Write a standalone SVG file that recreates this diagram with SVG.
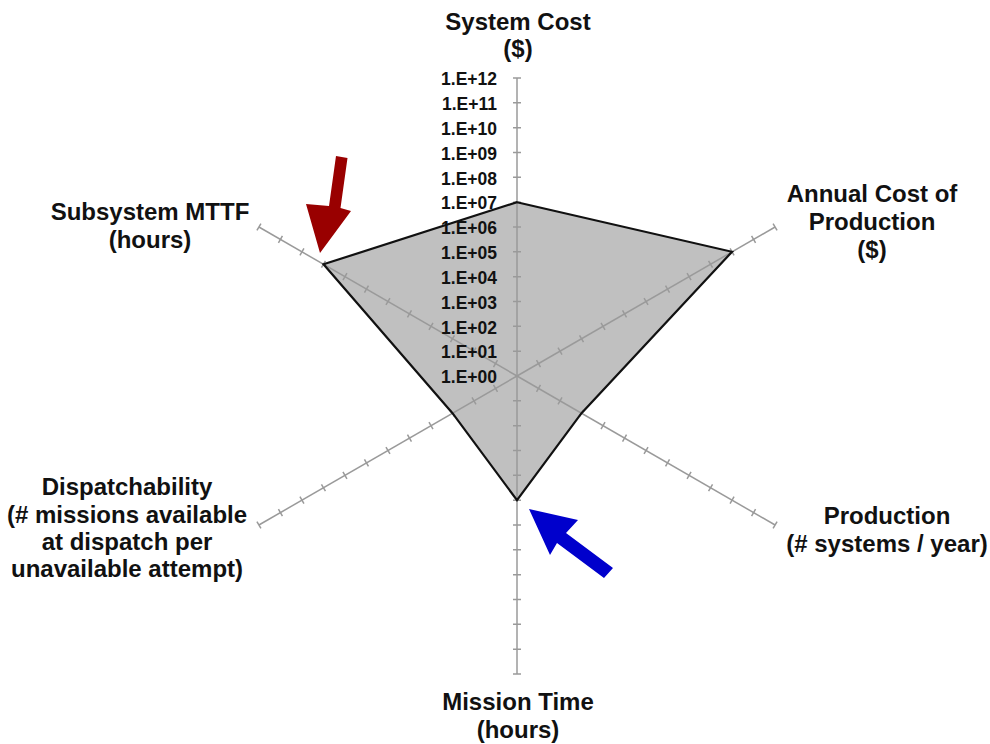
<svg xmlns="http://www.w3.org/2000/svg" xmlns:xlink="http://www.w3.org/1999/xlink" width="990" height="744" viewBox="0 0 990 744">
<style>
.lbl{font-family:"Liberation Sans",Arial,sans-serif;font-weight:bold;font-size:24px;fill:#111;text-anchor:middle}
.tk{font-family:"Liberation Sans",Arial,sans-serif;font-weight:bold;font-size:17.5px;fill:#111;text-anchor:end}
.ax{stroke:#9a9a9a;stroke-width:1.5;fill:none}
</style>
<defs>
<g id="axis">
<path class="ax" d="M0,0V-298"/>
<path class="ax" d="M-4,-24.83H4M-4,-49.67H4M-4,-74.5H4M-4,-99.33H4M-4,-124.17H4M-4,-149H4M-4,-173.83H4M-4,-198.67H4M-4,-223.5H4M-4,-248.33H4M-4,-273.17H4M-4,-298H4"/>
</g>
</defs>
<rect width="990" height="744" fill="#fff"/>
<g id="chart">
<polygon points="517,202.2 732,251.8 581.5,413.2 517,500.2 452.5,413.2 323.5,264.3" fill="#c0c0c0"/>
<g transform="translate(517,376)">
<use xlink:href="#axis"/>
<use xlink:href="#axis" transform="rotate(60)"/>
<use xlink:href="#axis" transform="rotate(120)"/>
<use xlink:href="#axis" transform="rotate(180)"/>
<use xlink:href="#axis" transform="rotate(240)"/>
<use xlink:href="#axis" transform="rotate(300)"/>
</g>
<polygon points="517,202.2 732,251.8 581.5,413.2 517,500.2 452.5,413.2 323.5,264.3" fill="none" stroke="#111" stroke-width="2.2" stroke-linejoin="miter"/>
</g>
<g id="scale">
<text class="tk" x="497" y="85">1.E+12</text>
<text class="tk" x="497" y="110">1.E+11</text>
<text class="tk" x="497" y="134.8">1.E+10</text>
<text class="tk" x="497" y="159.7">1.E+09</text>
<text class="tk" x="497" y="184.5">1.E+08</text>
<text class="tk" x="497" y="209.3">1.E+07</text>
<text class="tk" x="497" y="234.2">1.E+06</text>
<text class="tk" x="497" y="259">1.E+05</text>
<text class="tk" x="497" y="283.8">1.E+04</text>
<text class="tk" x="497" y="308.7">1.E+03</text>
<text class="tk" x="497" y="333.5">1.E+02</text>
<text class="tk" x="497" y="358.3">1.E+01</text>
<text class="tk" x="497" y="383.2">1.E+00</text>
</g>
<g id="label-system-cost"><text class="lbl" x="518" y="30">System Cost</text><text class="lbl" x="518" y="57">($)</text></g>
<g id="label-annual-cost"><text class="lbl" x="872" y="202">Annual Cost of</text><text class="lbl" x="872" y="230">Production</text><text class="lbl" x="872" y="258">($)</text></g>
<g id="label-production"><text class="lbl" x="887" y="524">Production</text><text class="lbl" x="887" y="552">(# systems / year)</text></g>
<g id="label-mission-time"><text class="lbl" x="518" y="710">Mission Time</text><text class="lbl" x="518" y="738">(hours)</text></g>
<g id="label-dispatchability"><text class="lbl" x="127" y="495">Dispatchability</text><text class="lbl" x="127" y="523">(# missions available</text><text class="lbl" x="127" y="550">at dispatch per</text><text class="lbl" x="127" y="577">unavailable attempt)</text></g>
<g id="label-mttf"><text class="lbl" x="150" y="220">Subsystem MTTF</text><text class="lbl" x="150" y="248">(hours)</text></g>
<g id="connectors">
<polygon id="arrow-red" points="336,156 347.5,158 340.5,208 351,211 320,253 306,204 329,206" fill="#990000"/>
<polygon id="arrow-blue" points="529,509 578,520 566,533 613,568 604,578 557,543 550,555" fill="#0000cc"/>
</g>
</svg>
